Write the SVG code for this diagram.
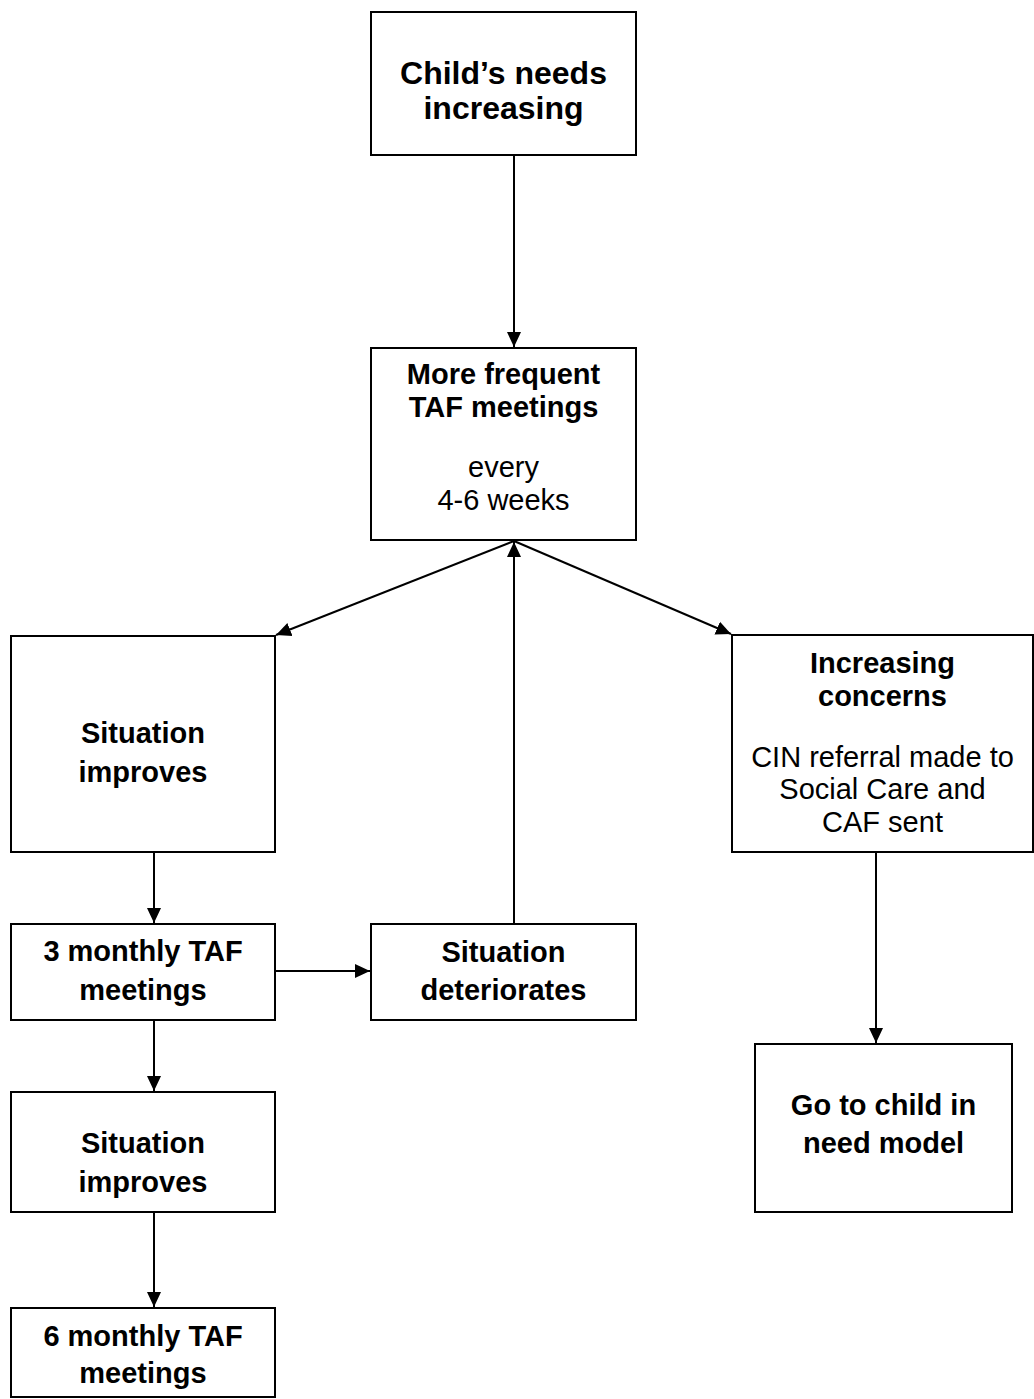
<svg xmlns="http://www.w3.org/2000/svg" width="1034" height="1399" viewBox="0 0 1034 1399">
<style>
.box{fill:#fff;stroke:#000;stroke-width:2}
.t{font-family:"Liberation Sans",Arial,sans-serif;font-size:29px;text-anchor:middle;fill:#000}
.b{font-weight:bold}
.big{font-size:32px}
.c{stroke:#000;stroke-width:2;fill:none;marker-end:url(#ah)}
</style>
<defs>
<marker id="ah" markerUnits="userSpaceOnUse" markerWidth="18" markerHeight="16" refX="15" refY="8" orient="auto">
<path d="M0,1 L15,8 L0,15 Z" fill="#000"/>
</marker>
</defs>
<rect width="1034" height="1399" fill="#fff"/>
<g id="connectors">
<line class="c" x1="514" y1="155" x2="514" y2="347"/>
<line class="c" x1="514" y1="541" x2="276" y2="635"/>
<line class="c" x1="514" y1="541" x2="731" y2="634"/>
<line class="c" x1="514" y1="924" x2="514" y2="542"/>
<line class="c" x1="154" y1="852" x2="154" y2="923"/>
<line class="c" x1="275" y1="971" x2="370" y2="971"/>
<line class="c" x1="154" y1="1020" x2="154" y2="1091"/>
<line class="c" x1="154" y1="1212" x2="154" y2="1307"/>
<line class="c" x1="876" y1="852" x2="876" y2="1043"/>
</g>
<g id="n1">
<rect class="box" x="371" y="12" width="265" height="143"/>
<text class="t b big" x="503.5" y="84">Child’s needs</text>
<text class="t b big" x="503.5" y="119">increasing</text>
</g>
<g id="n2">
<rect class="box" x="371" y="348" width="265" height="192"/>
<text class="t b" x="503.5" y="384">More frequent</text>
<text class="t b" x="503.5" y="417">TAF meetings</text>
<text class="t" x="503.5" y="477">every</text>
<text class="t" x="503.5" y="510">4-6 weeks</text>
</g>
<g id="n3">
<rect class="box" x="11" y="636" width="264" height="216"/>
<text class="t b" x="143" y="743">Situation</text>
<text class="t b" x="143" y="782">improves</text>
</g>
<g id="n4">
<rect class="box" x="732" y="635" width="301" height="217"/>
<text class="t b" x="882.5" y="673">Increasing</text>
<text class="t b" x="882.5" y="706">concerns</text>
<text class="t" x="882.5" y="767">CIN referral made to</text>
<text class="t" x="882.5" y="799">Social Care and</text>
<text class="t" x="882.5" y="832">CAF sent</text>
</g>
<g id="n5">
<rect class="box" x="11" y="924" width="264" height="96"/>
<text class="t b" x="143" y="961">3 monthly TAF</text>
<text class="t b" x="143" y="1000">meetings</text>
</g>
<g id="n6">
<rect class="box" x="371" y="924" width="265" height="96"/>
<text class="t b" x="503.5" y="962">Situation</text>
<text class="t b" x="503.5" y="1000">deteriorates</text>
</g>
<g id="n7">
<rect class="box" x="11" y="1092" width="264" height="120"/>
<text class="t b" x="143" y="1153">Situation</text>
<text class="t b" x="143" y="1192">improves</text>
</g>
<g id="n8">
<rect class="box" x="11" y="1308" width="264" height="89"/>
<text class="t b" x="143" y="1346">6 monthly TAF</text>
<text class="t b" x="143" y="1383">meetings</text>
</g>
<g id="n9">
<rect class="box" x="755" y="1044" width="257" height="168"/>
<text class="t b" x="883.5" y="1115">Go to child in</text>
<text class="t b" x="883.5" y="1153">need model</text>
</g>
</svg>
